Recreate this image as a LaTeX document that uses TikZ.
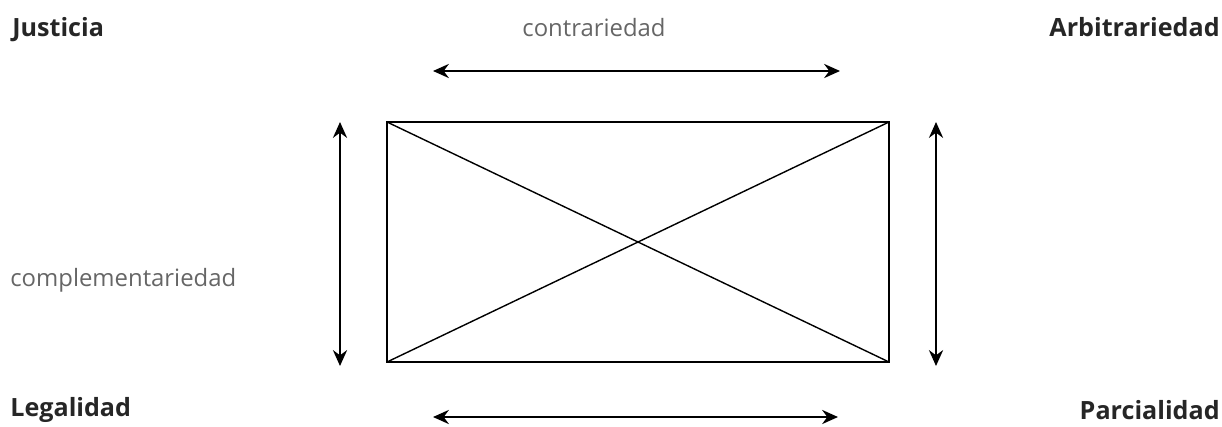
\documentclass[tikz,border=0pt]{standalone}
\usepackage{fontspec}
\setmainfont{Open Sans}
\usetikzlibrary{arrows.meta}

\begin{document}
\begin{tikzpicture}[x=0.02cm,y=-0.02cm]
      \useasboundingbox (0,0) rectangle (1222,426);
      \tikzset{term/.style={font=\bfseries\fontsize{14.3}{16}\selectfont,text=black!85,inner sep=0pt},
        rel/.style={font=\fontsize{13.6}{15}\selectfont,text=black!60,inner sep=0pt},
        rel arrow/.style={{Stealth[length=9pt,width=8pt]}-{Stealth[length=9pt,width=8pt]},line width=1.4pt}}
      \node[term,anchor=west] (just) at (12,30) {Justicia};
      \node[term,anchor=east] (arbi) at (1220,27) {Arbitrariedad};
      \node[term,anchor=west] (lega) at (10,410) {Legalidad};
      \node[term,anchor=east] (parc) at (1220,410) {Parcialidad};
      \node[rel] (contr) at (594,28) {contrariedad};
      \node[rel,anchor=west] (compl) at (10,280) {complementariedad};
      \coordinate (a) at (387,122);
      \coordinate (b) at (889,122);
      \coordinate (c) at (889,362);
      \coordinate (d) at (387,362);
      \draw[line width=1.2pt] (a) rectangle (c);
      \draw[line width=0.8pt] (a) -- (c);
      \draw[line width=0.8pt] (b) -- (d);
      \draw[rel arrow] (433,71) -- (840,71);
      \draw[rel arrow] (433,417) -- (838,417);
      \draw[rel arrow] (340,122) -- (340,366);
      \draw[rel arrow] (936,122) -- (936,366);
    \end{tikzpicture}
\end{document}
